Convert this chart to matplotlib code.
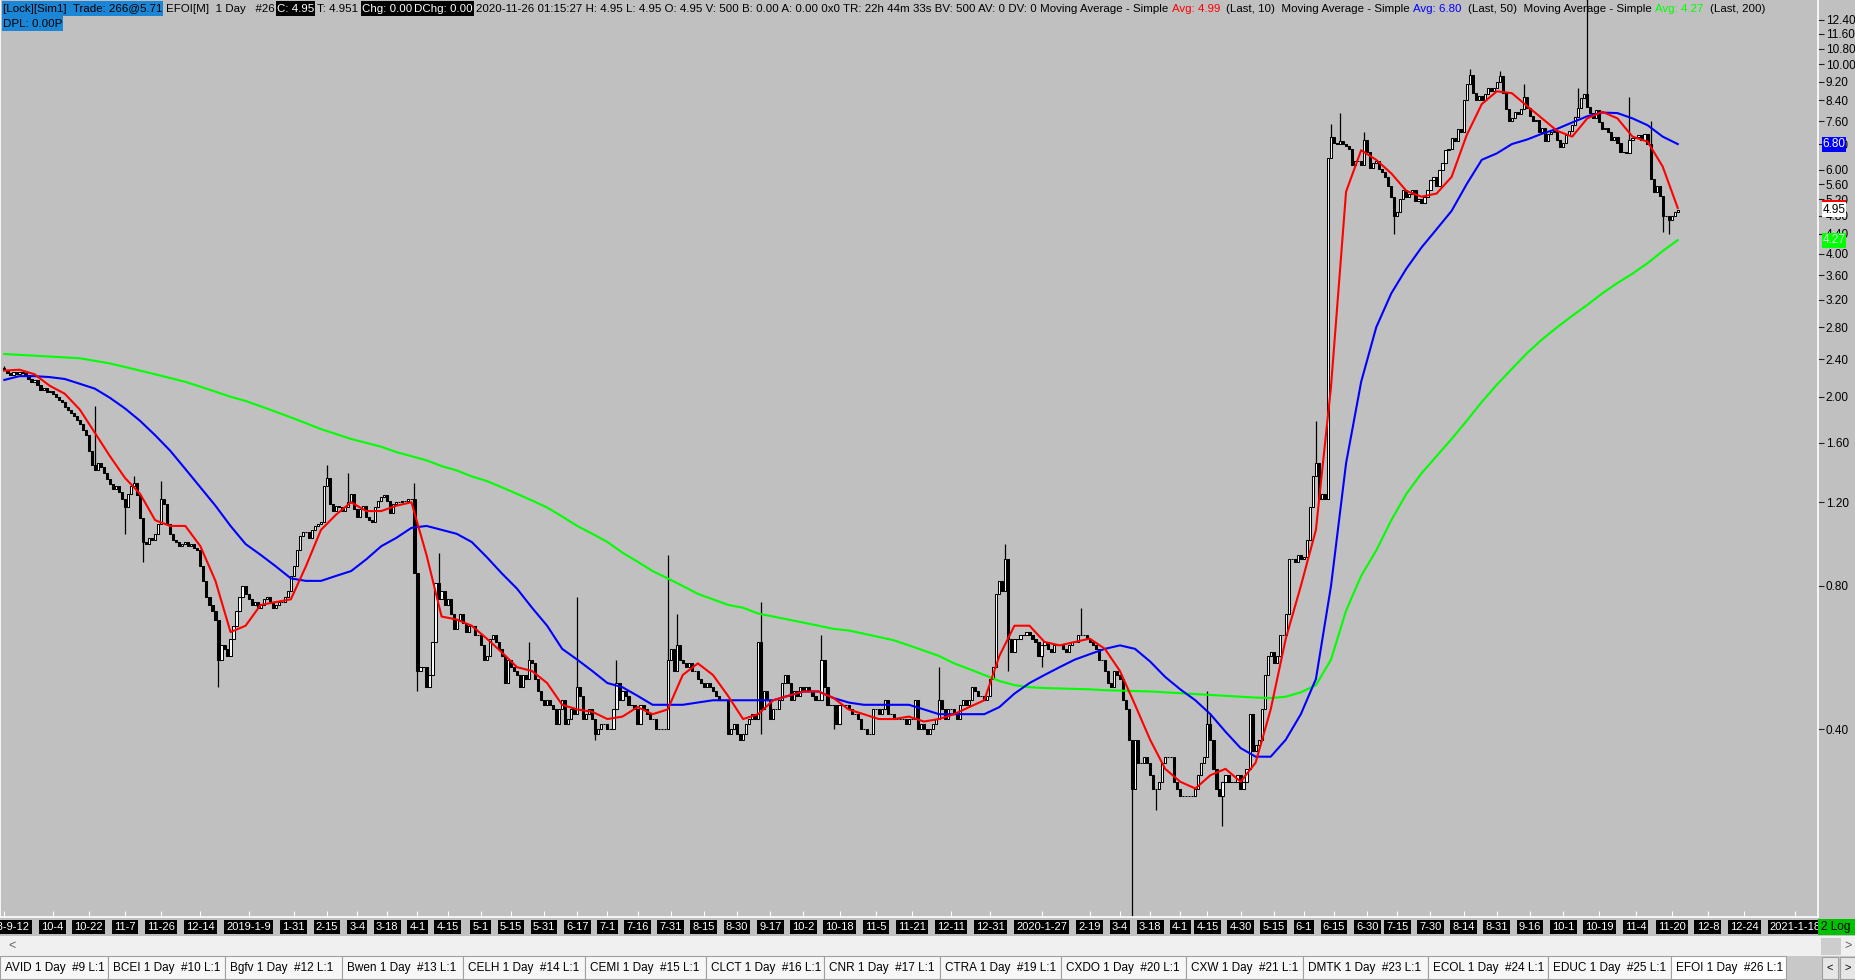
import matplotlib
matplotlib.use("Agg")

import matplotlib.pyplot as plt
import numpy as np
import pandas as pd
from matplotlib.patches import Rectangle
from matplotlib.ticker import FixedLocator, FormatStrFormatter, NullLocator

W, H, DPI = 1855, 980, 100
CHART_BG = "#c0c0c0"
FONT = ["Liberation Sans", "DejaVu Sans"]
plt.rcParams["font.family"] = FONT

# ---------------------------------------------------------------------------
# Data (2018-09-12 .. 2020-11-25)
# ---------------------------------------------------------------------------
FIRST_OPEN = 2.30
CLOSE = [
    2.28, 2.24, 2.22, 2.25, 2.23, 2.26, 2.24, 2.22, 2.18, 2.15,   # 0
    2.17, 2.12, 2.07, 2.09, 2.05, 2.06, 2.03, 2.00, 1.97, 1.95,   # 10
    1.90, 1.88, 1.85, 1.82, 1.79, 1.75, 1.70, 1.66, 1.54, 1.44,   # 20
    1.40, 1.45, 1.42, 1.38, 1.34, 1.31, 1.28, 1.30, 1.26, 1.22,   # 30
    1.17, 1.25, 1.30, 1.32, 1.24, 1.11, 0.99, 0.98, 1.01, 1.00,   # 40
    1.03, 1.08, 1.22, 1.19, 1.08, 1.03, 1.00, 0.99, 0.97, 0.98,   # 50
    0.99, 0.97, 0.98, 0.96, 0.95, 0.88, 0.82, 0.76, 0.73, 0.71,   # 60
    0.68, 0.56, 0.60, 0.59, 0.57, 0.62, 0.66, 0.71, 0.76, 0.80,   # 70
    0.77, 0.75, 0.73, 0.74, 0.72, 0.73, 0.75, 0.76, 0.74, 0.72,   # 80
    0.73, 0.74, 0.74, 0.76, 0.78, 0.84, 0.88, 0.95, 1.02, 1.04,   # 90
    1.04, 1.01, 1.05, 1.07, 1.08, 1.09, 1.30, 1.35, 1.19, 1.15,   # 100
    1.18, 1.17, 1.15, 1.17, 1.20, 1.25, 1.16, 1.12, 1.16, 1.18,   # 110
    1.12, 1.10, 1.09, 1.17, 1.21, 1.23, 1.24, 1.21, 1.14, 1.19,   # 120
    1.20, 1.20, 1.21, 1.21, 1.22, 1.22, 0.85, 0.53, 0.54, 0.54,   # 130
    0.49, 0.52, 0.61, 0.81, 0.75, 0.78, 0.73, 0.75, 0.70, 0.65,   # 140
    0.68, 0.70, 0.67, 0.64, 0.66, 0.66, 0.63, 0.63, 0.60, 0.56,   # 150
    0.57, 0.62, 0.63, 0.61, 0.59, 0.57, 0.50, 0.56, 0.54, 0.53,   # 160
    0.52, 0.49, 0.52, 0.51, 0.56, 0.55, 0.51, 0.48, 0.46, 0.45,   # 170
    0.46, 0.45, 0.44, 0.41, 0.44, 0.46, 0.41, 0.42, 0.44, 0.43,   # 180
    0.49, 0.47, 0.42, 0.43, 0.44, 0.42, 0.39, 0.40, 0.41, 0.41,   # 190
    0.40, 0.40, 0.44, 0.50, 0.46, 0.48, 0.47, 0.45, 0.45, 0.44,   # 200
    0.41, 0.45, 0.44, 0.43, 0.42, 0.42, 0.40, 0.40, 0.40, 0.40,   # 210
    0.56, 0.59, 0.53, 0.60, 0.56, 0.55, 0.54, 0.55, 0.53, 0.53,   # 220
    0.51, 0.50, 0.49, 0.50, 0.49, 0.48, 0.47, 0.46, 0.46, 0.46,   # 230
    0.39, 0.40, 0.41, 0.39, 0.38, 0.39, 0.41, 0.42, 0.43, 0.42,   # 240
    0.61, 0.44, 0.48, 0.46, 0.42, 0.44, 0.44, 0.46, 0.50, 0.52,   # 250
    0.50, 0.46, 0.48, 0.47, 0.49, 0.48, 0.49, 0.48, 0.47, 0.46,   # 260
    0.46, 0.56, 0.49, 0.45, 0.45, 0.45, 0.41, 0.45, 0.45, 0.45,   # 270
    0.44, 0.43, 0.43, 0.42, 0.40, 0.40, 0.39, 0.39, 0.44, 0.44,   # 280
    0.43, 0.44, 0.46, 0.43, 0.43, 0.42, 0.42, 0.42, 0.42, 0.41,   # 290
    0.42, 0.42, 0.46, 0.40, 0.41, 0.40, 0.39, 0.40, 0.41, 0.42,   # 300
    0.46, 0.44, 0.42, 0.44, 0.44, 0.43, 0.42, 0.45, 0.46, 0.45,   # 310
    0.46, 0.49, 0.48, 0.47, 0.47, 0.46, 0.47, 0.51, 0.54, 0.77,   # 320
    0.82, 0.78, 0.91, 0.62, 0.58, 0.62, 0.62, 0.63, 0.63, 0.64,   # 330
    0.63, 0.62, 0.61, 0.57, 0.60, 0.61, 0.59, 0.58, 0.60, 0.60,   # 340
    0.60, 0.59, 0.58, 0.60, 0.61, 0.61, 0.63, 0.63, 0.63, 0.62,   # 350
    0.61, 0.60, 0.59, 0.56, 0.56, 0.53, 0.50, 0.49, 0.53, 0.52,   # 360
    0.51, 0.46, 0.44, 0.38, 0.30, 0.38, 0.34, 0.34, 0.35, 0.34,   # 370
    0.32, 0.30, 0.30, 0.31, 0.34, 0.35, 0.35, 0.35, 0.31, 0.30,   # 380
    0.29, 0.29, 0.29, 0.29, 0.29, 0.30, 0.32, 0.34, 0.35, 0.41,   # 390
    0.38, 0.33, 0.30, 0.29, 0.31, 0.32, 0.31, 0.31, 0.31, 0.32,   # 400
    0.30, 0.31, 0.33, 0.43, 0.36, 0.37, 0.38, 0.44, 0.52, 0.57,   # 410
    0.58, 0.55, 0.57, 0.63, 0.63, 0.70, 0.91, 0.91, 0.90, 0.93,   # 420
    0.91, 0.92, 1.00, 1.17, 1.36, 1.45, 1.22, 1.25, 1.22, 6.37,   # 430
    7.05, 6.85, 6.80, 6.90, 6.80, 6.75, 6.65, 6.15, 6.25, 6.25,   # 440
    6.15, 6.95, 6.55, 6.05, 6.20, 6.25, 6.02, 5.95, 5.80, 5.55,   # 450
    5.25, 4.80, 4.90, 5.20, 5.45, 5.25, 5.35, 5.45, 5.15, 5.20,   # 460
    5.10, 5.25, 5.45, 5.70, 5.80, 5.55, 6.00, 6.20, 6.60, 6.65,   # 470
    7.00, 6.90, 7.30, 7.20, 8.40, 9.10, 9.50, 8.70, 8.40, 8.60,   # 480
    8.40, 8.65, 8.90, 8.80, 8.90, 9.20, 9.45, 8.70, 8.05, 7.60,   # 490
    7.70, 7.95, 7.85, 8.05, 8.55, 8.10, 7.80, 7.60, 7.65, 7.20,   # 500
    7.35, 6.90, 7.15, 7.20, 7.25, 6.95, 6.70, 6.85, 7.10, 7.25,   # 510
    7.45, 7.75, 8.10, 8.50, 8.65, 8.15, 7.90, 7.70, 8.00, 7.55,   # 520
    7.30, 7.35, 7.20, 6.95, 7.05, 6.85, 6.55, 6.55, 6.50, 6.95,   # 530
    7.00, 7.05, 7.10, 6.95, 7.15, 6.80, 5.75, 5.40, 5.55, 5.30,   # 540
    4.80, 4.80, 4.70, 4.80, 4.90, 4.95,                           # 550
]

# wicks that stick out beyond the candle body
HIGH_SPIKES = {
    0: 2.32, 30: 1.91, 43: 1.36, 52: 1.33, 107: 1.44, 114: 1.38, 136: 1.32,
    144: 0.94, 174: 0.61, 190: 0.76, 203: 0.56, 220: 0.93, 223: 0.70,
    251: 0.74, 271: 0.63, 310: 0.54, 332: 0.98, 357: 0.72, 399: 0.48,
    400: 0.43, 435: 1.78, 440: 7.50, 443: 7.90, 451: 7.20, 486: 9.80,
    496: 9.70, 504: 9.10, 522: 8.90, 525: 14.0, 539: 8.55, 546: 7.60,
}
LOW_SPIKES = {
    40: 1.03, 46: 0.90, 71: 0.49, 137: 0.48, 196: 0.38, 251: 0.39,
    275: 0.40, 333: 0.53, 344: 0.54, 374: 0.155, 382: 0.27, 404: 0.25,
    461: 4.40, 550: 4.45, 552: 4.40,
}

# moving averages, one value every 5 bars plus the last bar
MA_STEP = 5
SMA10 = [
    2.27, 2.28, 2.23, 2.11, 2.03, 1.88, 1.68, 1.50, 1.35, 1.25,
    1.10, 1.07, 1.07, 0.97, 0.82, 0.64, 0.66, 0.73, 0.74, 0.75,
    0.88, 1.05, 1.13, 1.20, 1.15, 1.15, 1.18, 1.20, 0.93, 0.69,
    0.68, 0.66, 0.62, 0.58, 0.54, 0.53, 0.50, 0.45, 0.44, 0.435,
    0.42, 0.425, 0.445, 0.43, 0.44, 0.52, 0.55, 0.52, 0.47, 0.42,
    0.43, 0.46, 0.47, 0.48, 0.48, 0.465, 0.44, 0.43, 0.42, 0.42,
    0.425, 0.415, 0.42, 0.43, 0.445, 0.46, 0.57, 0.66, 0.66, 0.61,
    0.60, 0.61, 0.62, 0.59, 0.53, 0.45, 0.38, 0.33, 0.31, 0.30,
    0.32, 0.33, 0.31, 0.34, 0.44, 0.62, 0.80, 1.05, 2.10, 5.40,
    6.60, 6.30, 5.90, 5.42, 5.27, 5.35, 5.80, 7.10, 8.25, 8.78,
    8.70, 8.18, 7.70, 7.25, 7.05, 7.70, 7.95, 7.70, 7.05, 6.88,
    6.10, 4.99,
]
SMA50 = [
    2.17, 2.21, 2.21, 2.20, 2.18, 2.13, 2.08, 1.99, 1.89, 1.78,
    1.66, 1.54, 1.41, 1.29, 1.18, 1.07, 0.98, 0.93, 0.88, 0.83,
    0.82, 0.82, 0.84, 0.86, 0.91, 0.97, 1.01, 1.06, 1.07, 1.05,
    1.03, 0.99, 0.92, 0.85, 0.79, 0.72, 0.66, 0.59, 0.56, 0.53,
    0.50, 0.49, 0.47, 0.45, 0.45, 0.45, 0.455, 0.46, 0.46, 0.46,
    0.46, 0.46, 0.47, 0.48, 0.48, 0.465, 0.455, 0.45, 0.45, 0.45,
    0.45, 0.44, 0.43, 0.43, 0.43, 0.43, 0.445, 0.475, 0.50, 0.52,
    0.54, 0.56, 0.575, 0.59, 0.60, 0.59, 0.555, 0.515, 0.485, 0.46,
    0.43, 0.395, 0.365, 0.35, 0.35, 0.38, 0.43, 0.51, 0.80, 1.45,
    2.15, 2.80, 3.30, 3.72, 4.12, 4.50, 4.92, 5.60, 6.30, 6.50,
    6.80, 6.95, 7.15, 7.32, 7.55, 7.78, 7.92, 7.90, 7.70, 7.45,
    7.05, 6.80,
]
SMA200 = [
    2.46, 2.45, 2.44, 2.43, 2.42, 2.41, 2.38, 2.35, 2.31, 2.27,
    2.23, 2.19, 2.15, 2.10, 2.05, 2.00, 1.96, 1.91, 1.86, 1.81,
    1.76, 1.71, 1.67, 1.63, 1.60, 1.57, 1.53, 1.50, 1.47, 1.43,
    1.40, 1.36, 1.33, 1.29, 1.25, 1.21, 1.17, 1.12, 1.07, 1.03,
    0.99, 0.94, 0.90, 0.86, 0.83, 0.80, 0.77, 0.75, 0.73, 0.72,
    0.70, 0.69, 0.68, 0.67, 0.66, 0.65, 0.645, 0.635, 0.625, 0.615,
    0.60, 0.585, 0.57, 0.55, 0.535, 0.52, 0.505, 0.495, 0.49, 0.488,
    0.487, 0.486, 0.485, 0.483, 0.482, 0.481, 0.48, 0.478, 0.476, 0.474,
    0.472, 0.47, 0.468, 0.466, 0.465, 0.468, 0.478, 0.495, 0.56, 0.71,
    0.84, 0.95, 1.10, 1.25, 1.38, 1.50, 1.63, 1.78, 1.95, 2.12,
    2.29, 2.47, 2.64, 2.80, 2.96, 3.12, 3.30, 3.47, 3.63, 3.82,
    4.05, 4.27,
]

HOLIDAYS = [
    "2018-11-22", "2018-12-05", "2018-12-25", "2019-01-01", "2019-01-21",
    "2019-02-18", "2019-04-19", "2019-05-27", "2019-07-04", "2019-09-02",
    "2019-11-28", "2019-12-25", "2020-01-01", "2020-01-20", "2020-02-17",
    "2020-04-10", "2020-05-25", "2020-07-03", "2020-09-07",
]
LABEL_DATES = [
    "2018-09-12", "2018-10-04", "2018-10-22", "2018-11-07", "2018-11-26",
    "2018-12-14", "2019-01-09", "2019-01-31", "2019-02-15", "2019-03-04",
    "2019-03-18", "2019-04-01", "2019-04-15", "2019-05-01", "2019-05-15",
    "2019-05-31", "2019-06-17", "2019-07-01", "2019-07-16", "2019-07-31",
    "2019-08-15", "2019-08-30", "2019-09-17", "2019-10-02", "2019-10-18",
    "2019-11-05", "2019-11-21", "2019-12-11", "2019-12-31", "2020-01-27",
    "2020-02-19", "2020-03-04", "2020-03-18", "2020-04-01", "2020-04-15",
    "2020-04-30", "2020-05-15", "2020-06-01", "2020-06-15", "2020-06-30",
    "2020-07-15", "2020-07-30", "2020-08-14", "2020-08-31", "2020-09-16",
    "2020-10-01", "2020-10-19", "2020-11-04", "2020-11-20", "2020-12-08",
    "2020-12-24", "2021-01-18",
]
PRICE_TICKS = [12.4, 11.6, 10.8, 10.0, 9.2, 8.4, 7.6, 6.8, 6.0, 5.6, 5.2,
               4.8, 4.4, 4.0, 3.6, 3.2, 2.8, 2.4, 2.0, 1.6, 1.2, 0.8, 0.4]
TABS = ["AVID 1 Day  #9 L:1", "BCEI 1 Day  #10 L:1", "Bgfv 1 Day  #12 L:1",
        "Bwen 1 Day  #13 L:1", "CELH 1 Day  #14 L:1", "CEMI 1 Day  #15 L:1",
        "CLCT 1 Day  #16 L:1", "CNR 1 Day  #17 L:1", "CTRA 1 Day  #19 L:1",
        "CXDO 1 Day  #20 L:1", "CXW 1 Day  #21 L:1", "DMTK 1 Day  #23 L:1",
        "ECOL 1 Day  #24 L:1", "EDUC 1 Day  #25 L:1", "EFOI 1 Day  #26 L:1"]

# ---------------------------------------------------------------------------
# Layout (pixels)
# ---------------------------------------------------------------------------
PLOT_RIGHT = 1818
PLOT_BOTTOM = 917
BAR_PX = 3.015
X0_PX = 4.4
TAB_EDGES = [0, 108, 225, 342, 463, 585, 706, 824, 940, 1061, 1186, 1303,
             1428, 1548, 1671, 1786]

fig = plt.figure(figsize=(W / DPI, H / DPI), dpi=DPI, facecolor=CHART_BG)
ax = fig.add_axes([0, 1 - PLOT_BOTTOM / H, PLOT_RIGHT / W, PLOT_BOTTOM / H])
ax.set_facecolor(CHART_BG)

# candles
close = np.array(CLOSE)
opens = np.r_[FIRST_OPEN, close[:-1]]
x = np.arange(len(close))
hi = np.maximum(opens, close)
lo = np.minimum(opens, close)
for k, v in HIGH_SPIKES.items():
    hi[k] = max(hi[k], v)
for k, v in LOW_SPIKES.items():
    lo[k] = min(lo[k], v)

up = close >= opens
ax.vlines(x, lo, hi, color="black", linewidth=0.9, zorder=2)
ax.bar(x[up], (close - opens)[up], bottom=opens[up], width=0.72,
       color="white", edgecolor="black", linewidth=0.75, zorder=3)
ax.bar(x[~up], (opens - close)[~up], bottom=close[~up], width=0.72,
       color="black", edgecolor="black", linewidth=0.75, zorder=3)

# moving averages
ma_x = np.r_[np.arange(0, MA_STEP * (len(SMA10) - 1), MA_STEP), len(close) - 1]
ax.plot(ma_x, SMA200, color="#00ff00", linewidth=1.5, zorder=4)
ax.plot(ma_x, SMA50, color="#0000ff", linewidth=1.5, zorder=4)
ax.plot(ma_x, SMA10, color="#ff0000", linewidth=1.5, zorder=5)

# axes scales
ax.set_yscale("log")
px_per_ln = 206.5
ax.set_ylim(12.4 * np.exp(-(PLOT_BOTTOM - 20) / px_per_ln), 12.4 * np.exp(20 / px_per_ln))
ax.set_xlim(-X0_PX / BAR_PX, (PLOT_RIGHT - X0_PX) / BAR_PX)

ax.yaxis.tick_right()
ax.yaxis.set_major_locator(FixedLocator(PRICE_TICKS))
ax.yaxis.set_minor_locator(NullLocator())
ax.yaxis.set_major_formatter(FormatStrFormatter("%.2f"))
ax.tick_params(axis="y", direction="out", length=4, width=0.8, color="#202020",
               labelsize=8.5, pad=1.5, labelcolor="black")

# date axis
trade_days = pd.bdate_range("2018-09-12", "2020-11-25")
trade_days = trade_days[~trade_days.isin(pd.to_datetime(HOLIDAYS))]
calendar = trade_days.append(pd.bdate_range("2020-11-26", "2021-02-26"))
tick_pos, tick_txt = [], []
prev_year = None
for d in LABEL_DATES:
    ts = pd.Timestamp(d)
    tick_pos.append(calendar.get_loc(ts))
    if ts.year != prev_year:
        tick_txt.append(f"{ts.year}-{ts.month}-{ts.day}")
    else:
        tick_txt.append(f"{ts.month}-{ts.day}")
    prev_year = ts.year
ax.set_xticks(tick_pos)
ax.set_xticklabels(tick_txt)
ax.xaxis.set_minor_locator(NullLocator())
ax.tick_params(axis="x", direction="in", length=4, width=0.8, color="white",
               labelsize=8, pad=3.4, labelcolor="white")
for t in ax.get_xticklabels():
    t.set_bbox(dict(boxstyle="square,pad=0.2", fc="black", ec="none"))

ax.spines["top"].set_visible(False)
for side in ("left", "right", "bottom"):
    ax.spines[side].set_color("white")
    ax.spines[side].set_linewidth(1.2)

# ---------------------------------------------------------------------------
# Overlay in pixel coordinates: header, price tags, status rows
# ---------------------------------------------------------------------------
ov = fig.add_axes([0, 0, 1, 1])
ov.set_xlim(0, W)
ov.set_ylim(H, 0)
ov.axis("off")
ov.set_facecolor("none")
renderer = fig.canvas.get_renderer()


def price_y(p):
    return H - ax.transData.transform((0, p))[1]


def draw_runs(x0, yc, runs, fs):
    xpos = x0
    arts = []
    space = fs * DPI / 72 * 0.278
    for text, fg, bg, gap in runs:
        t = ov.text(xpos, yc, text, color=fg, fontsize=fs, va="center",
                    ha="left", zorder=6)
        w = t.get_window_extent(renderer).width
        arts.append(t)
        if bg:
            r = Rectangle((xpos - 1, yc - 7.5), w + 2, 15, fc=bg, ec="none", zorder=5)
            ov.add_patch(r)
            arts.append(r)
        xpos += w + gap * space
    return xpos, arts


BLUE_BG = "#1c86d6"
line1 = [
    ("[Lock][Sim1]  Trade: 266@5.71", "black", BLUE_BG, 1.2),
    ("EFOI[M]  1 Day   #26", "black", None, 0.6),
    (f"C: {CLOSE[-1]:.2f}", "white", "black", 1.0),
    ("T: 4.951", "black", None, 1.0),
    ("Chg: 0.00", "white", "black", 0.8),
    ("DChg: 0.00", "white", "black", 1.0),
    ("2020-11-26 01:15:27 H: 4.95 L: 4.95 O: 4.95 V: 500 B: 0.00 A: 0.00 0x0 "
     "TR: 22h 44m 33s BV: 500 AV: 0 DV: 0 Moving Average - Simple", "black", None, 1.0),
    (f"Avg: {SMA10[-1]:.2f}", "#ff0000", None, 2.0),
    ("(Last, 10)  Moving Average - Simple", "black", None, 1.0),
    (f"Avg: {SMA50[-1]:.2f}", "#0000ff", None, 2.0),
    ("(Last, 50)  Moving Average - Simple", "black", None, 1.0),
    (f"Avg: {SMA200[-1]:.2f}", "#00ff00", None, 2.0),
    ("(Last, 200)", "black", None, 0.0),
]
end_x, tmp = draw_runs(3, 8.5, line1, 9)
for a in tmp:
    a.remove()
fs_head = 9 * (1757 - 3) / (end_x - 3)
draw_runs(3, 8.5, line1, fs_head)
draw_runs(3, 24, [("DPL: 0.00P", "black", BLUE_BG, 0)], fs_head)

# price tags on the right scale; the 10-bar average tag sits under the last price
ov.add_patch(Rectangle((1821.5, price_y(SMA10[-1]) - 7.5), 24.5, 15,
                       fc="#ff0000", ec="none", zorder=5))
tags = [
    (CLOSE[-1], "white", "black"),
    (SMA50[-1], "#0000ff", "white"),
    (SMA200[-1], "#00ff00", "#d8f0d8"),
]
for price, fc, tc in tags:
    yc = price_y(price)
    ov.add_patch(Rectangle((1821.5, yc - 7.5), 24.5, 15, fc=fc, ec="none", zorder=5))
    ov.text(1833.7, yc, f"{price:.2f}", color=tc, fontsize=8.5, ha="center",
            va="center", zorder=6)

# scale-type box
ov.add_patch(Rectangle((1818, 919), 37, 16, fc="#00c000", ec="none", zorder=5))
ov.text(1836, 927, "2 Log", fontsize=8.5, color="black", ha="center", va="center", zorder=6)

# scroll bar row
ov.add_patch(Rectangle((0, 936), W, 20, fc="#f0f0f0", ec="none", zorder=4))
ov.add_patch(Rectangle((1821, 938), 20, 17, fc="#cdcdcd", ec="none", zorder=5))
ov.text(12, 946, "<", fontsize=9, color="#606060", ha="center", va="center", zorder=6)
ov.text(1848, 946, ">", fontsize=9, color="#606060", ha="center", va="center", zorder=6)

# tab row
ov.add_patch(Rectangle((0, 956), W, 24, fc="#c8c8c8", ec="none", zorder=4))
for i, label in enumerate(TABS):
    x_left, x_right = TAB_EDGES[i], TAB_EDGES[i + 1]
    active = i == len(TABS) - 1
    ov.add_patch(Rectangle((x_left, 956), x_right - x_left, 23,
                           fc="white" if active else "#f7f7f7",
                           ec="#a0a0a0", linewidth=0.8, zorder=5))
    ov.text(x_left + 5, 968, label, fontsize=8.5, color="black", ha="left",
            va="center", zorder=6)
for bx, sym in ((1822, "<"), (1840, ">")):
    ov.add_patch(Rectangle((bx, 957), 16, 22, fc="#e6e6e6", ec="#a0a0a0",
                           linewidth=0.8, zorder=5))
    ov.text(bx + 8, 968, sym, fontsize=8, color="black", ha="center",
            va="center", zorder=6)

fig.savefig("out.png", dpi=DPI, facecolor=CHART_BG)
